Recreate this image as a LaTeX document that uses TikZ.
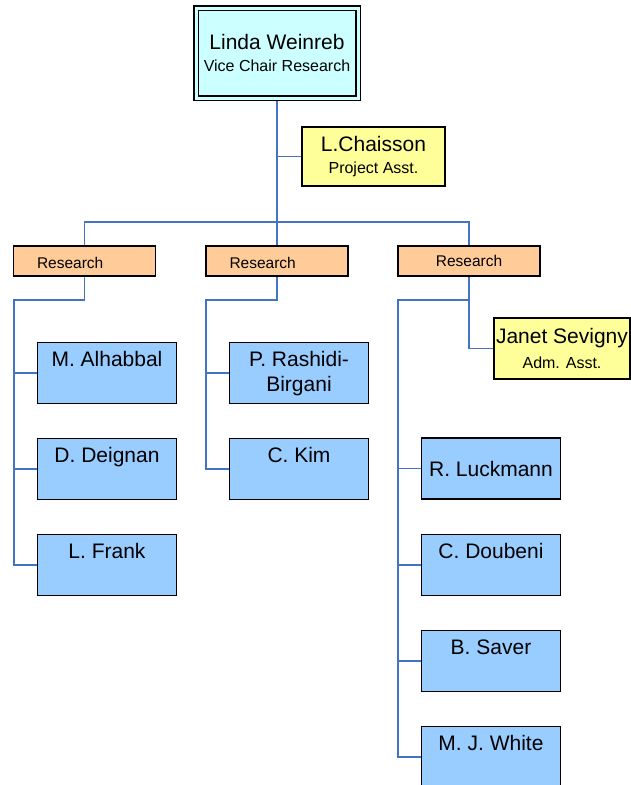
\documentclass[tikz,border=0pt]{standalone}
\usepackage{fontspec}
\setmainfont{Liberation Sans}
\usepackage{tikz}
\usetikzlibrary{backgrounds}
\pgfdeclarelayer{background}
\pgfsetlayers{background,main}
\definecolor{chaircyan}{HTML}{CCFFFF}
\definecolor{asstyellow}{HTML}{FFFF99}
\definecolor{unitorange}{HTML}{FFCC99}
\definecolor{staffblue}{HTML}{99CCFF}
\definecolor{linkblue}{HTML}{4472C4}
\newcommand{\namefont}{\fontsize{21}{24.5}\selectfont}
\newcommand{\subfont}{\fontsize{16}{21.5}\selectfont}
\tikzset{
  box/.style={draw=black, line width=1.6pt, inner sep=0pt, align=center},
  chairbox/.style={box, fill=chaircyan, double=chaircyan, double distance=3pt,
    minimum width=162pt, minimum height=90pt, font=\subfont},
  asstbox/.style={box, fill=asstyellow, font=\subfont},
  unitbox/.style={box, fill=unitorange, minimum width=142pt, minimum height=30pt,
    text width=95pt, inner xsep=23.5pt, align=left, font=\fontsize{15.5}{18}\selectfont},
  staffbox/.style={box, fill=staffblue, minimum width=139pt, minimum height=61pt},
  stafflabel/.style={anchor=north, yshift=-9.5pt, inner sep=0pt, align=center, font=\namefont},
  link/.style={draw=linkblue, line width=1.8pt}
}
\begin{document}
\begin{tikzpicture}[x=1pt,y=-1pt]
\useasboundingbox (0,0) rectangle (631,785);
% head and assistant
\node[chairbox] (chair) at (277,53) {{\namefont Linda Weinreb}\\Vice Chair Research};
\node[asstbox, minimum width=143.5pt, minimum height=59.5pt] (chaisson) at (373.5,156.5) {{\namefont L.Chaisson}\\Project Asst.};
% research units
\node[unitbox, text height=16pt] (unit1) at (84.5,261) {Research};
\node[unitbox, text height=16pt] (unit2) at (277,261) {Research};
\node[unitbox, align=center] (unit3) at (469,261) {Research};
\node[asstbox, minimum width=136pt, minimum height=61.5pt] (sevigny) at (562,348.5) {{\namefont Janet Sevigny}\\[3pt]Adm. Asst.};
% staff
\node[staffbox, label={[stafflabel]north:M. Alhabbal}] (alhabbal) at (107,373) {};
\node[staffbox, label={[stafflabel]north:D. Deignan}] (deignan) at (107,469) {};
\node[staffbox, label={[stafflabel]north:L. Frank}] (frank) at (107,565) {};
\node[staffbox, label={[stafflabel]north:{P. Rashidi-\\Birgani}}] (rashidi) at (299,373) {};
\node[staffbox, label={[stafflabel]north:C. Kim}] (kim) at (299,469) {};
\node[staffbox, font=\namefont] (luckmann) at (491,468.5) {R. Luckmann};
\node[staffbox, label={[stafflabel]north:C. Doubeni}] (doubeni) at (491,565) {};
\node[staffbox, label={[stafflabel]north:B. Saver}] (saver) at (491,661) {};
\node[staffbox, label={[stafflabel]north:M. J. White}] (white) at (491,757) {};
\coordinate (bar) at (277,222);
\coordinate (elbow1) at (14,300);
\coordinate (elbow2) at (206,300);
\coordinate (elbow3) at (398,300);
  \begin{pgfonlayer}{background}
    \draw[link] (chair.south) -- (unit2.north);
    \draw[link] (unit1.north) |- (bar) -| (unit3.north);
    \draw[link] (chaisson.west) -- (chaisson.west -| chair.south);
    \draw[link] (unit1.south) |- (elbow1) |- (frank.west);
    \draw[link] (unit2.south) |- (elbow2) |- (kim.west);
    \draw[link] (unit3.south) |- (elbow3) |- (white.west);
    \draw[link] (unit3.south) |- (sevigny.west);
    \draw[link] (rashidi.west) -- (rashidi.west -| elbow2);
    \foreach \n in {alhabbal,deignan}
    {
    \draw[link] (\n.west) -- (\n.west -| elbow1);
    }
    \foreach \n in {luckmann,doubeni,saver}
    {
    \draw[link] (\n.west) -- (\n.west -| elbow3);
    }
  \end{pgfonlayer}
\end{tikzpicture}
\end{document}
